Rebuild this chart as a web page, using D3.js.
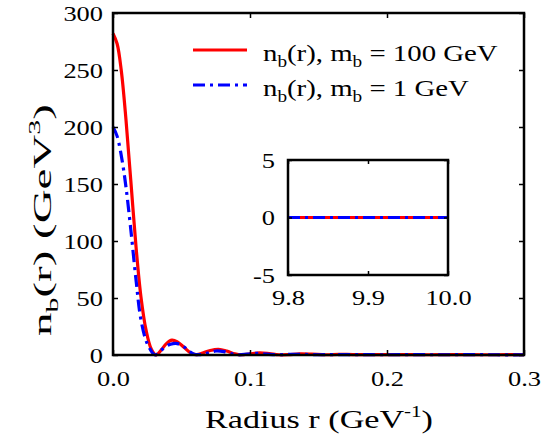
<!DOCTYPE html>
<html>
<head>
<meta charset="utf-8">
<script src="https://cdn.jsdelivr.net/npm/d3@7"></script>
<style>
  body { margin: 0; background: #fff; }
  text { font-family: "Liberation Serif", "Times New Roman", serif; fill: #000; }
</style>
</head>
<body>
<svg id="chart" width="547" height="434"></svg>
<script>
// values
var rRed = [0, 0.003, 0.006, 0.0095, 0.013, 0.0168, 0.0204, 0.0241, 0.028, 0.0314, 0.035, 0.039, 0.043, 0.047, 0.052, 0.057, 0.061, 0.066, 0.071, 0.077, 0.083, 0.089, 0.094, 0.100, 0.107, 0.114, 0.121, 0.128, 0.136, 0.145, 0.155, 0.165, 0.175, 0.19, 0.21, 0.23, 0.25, 0.27, 0.29, 0.3];
var nRed = [282, 273, 250, 206, 153, 95, 51, 22, 5, 0, 4, 10, 13, 11.5, 6.5, 1.5, 0.3, 2, 4, 5, 3.5, 1, 0.2, 1, 1.8, 1.2, 0.2, 0.3, 1, 0.8, 0.2, 0.6, 0.4, 0.3, 0.4, 0.2, 0.3, 0.2, 0.3, 0.2];
var rBlue = [0, 0.003, 0.0066, 0.0095, 0.013, 0.0168, 0.0204, 0.025, 0.0307, 0.034, 0.038, 0.042, 0.047, 0.052, 0.056, 0.06, 0.065, 0.07, 0.075, 0.081, 0.087, 0.092, 0.098, 0.105, 0.112, 0.12, 0.13, 0.14, 0.15, 0.16, 0.18, 0.2, 0.22, 0.24, 0.26, 0.28, 0.3];
var nBlue = [200, 192, 171, 147, 110, 66, 31, 10, 0, 3, 7, 9.5, 10, 7, 3, 0.5, 0.5, 2, 3.5, 3, 1, 0.2, 0.8, 1.5, 0.8, 0.2, 0.6, 0.5, 0.2, 0.4, 0.3, 0.2, 0.3, 0.2, 0.3, 0.2, 0.2];
var rInset = [9.8, 9.85, 9.9, 9.95, 10.0];
var nInsetRed = [0, 0, 0, 0, 0];
var nInsetBlue = [0, 0, 0, 0, 0];

var xTicks = [0, 0.1, 0.2, 0.3];
var yTicks = [0, 50, 100, 150, 200, 250, 300];
var insetXTicks = [9.8, 9.9, 10.0];
var insetYTicks = [-5, 0, 5];

var svg = d3.select("#chart");
var RED = "#ff0000", BLUE = "#0000ff";
var blueDash = "12,5,3,5";
var fs = 22, wide = 1.2; // the figure's type is drawn wider than normal

var x = d3.scaleLinear().domain([0, 0.3]).range([113, 524]);
var y = d3.scaleLinear().domain([0, 300]).range([355, 13]);

function zip(a, b) { return a.map(function (v, i) { return [v, b[i]]; }); }

function stretch(sel, k) {
  sel.each(function () {
    var len = this.getComputedTextLength();
    d3.select(this).attr("textLength", len * k).attr("lengthAdjust", "spacingAndGlyphs");
  });
}

// main curves
var line = d3.line().x(function (d) { return x(d[0]); }).y(function (d) { return y(d[1]); })
  .curve(d3.curveCatmullRom.alpha(0.5));

svg.append("path").datum(zip(rRed, nRed)).attr("d", line)
  .attr("fill", "none").attr("stroke", RED).attr("stroke-width", 3.2);
svg.append("path").datum(zip(rBlue, nBlue)).attr("d", line)
  .attr("fill", "none").attr("stroke", BLUE).attr("stroke-width", 3.2)
  .attr("stroke-dasharray", blueDash);

function styleAxis(g) {
  g.select(".domain").remove();
  g.selectAll(".tick line").attr("stroke", "#000").attr("stroke-width", 1.5);
  g.selectAll(".tick text").attr("font-size", fs).attr("font-family", "Liberation Serif").attr("fill", "#000")
    .call(stretch, wide);
}

// axes: inward ticks on all four sides
svg.append("g").attr("transform", "translate(0,355)")
  .call(d3.axisBottom(x).tickValues(xTicks).tickSize(-5).tickPadding(15).tickFormat(d3.format(".1f")))
  .call(styleAxis);
svg.append("g").attr("transform", "translate(0,13)")
  .call(d3.axisTop(x).tickValues(xTicks).tickSize(-5).tickFormat(""))
  .call(styleAxis);
svg.append("g").attr("transform", "translate(113,0)")
  .call(d3.axisLeft(y).tickValues(yTicks).tickSize(-5).tickPadding(10))
  .call(styleAxis);
svg.append("g").attr("transform", "translate(524,0)")
  .call(d3.axisRight(y).tickValues(yTicks).tickSize(-5).tickFormat(""))
  .call(styleAxis);

svg.append("rect").attr("x", 113).attr("y", 13).attr("width", 411).attr("height", 342)
  .attr("fill", "none").attr("stroke", "#000").attr("stroke-width", 2.5);

// axis titles
var xt = svg.append("text").attr("x", 319).attr("y", 428).attr("text-anchor", "middle").attr("font-size", 26);
xt.append("tspan").text("Radius r (GeV");
xt.append("tspan").attr("dy", -11).attr("font-size", 16).text("-1");
xt.append("tspan").attr("dy", 11).text(")");
xt.attr("textLength", 228).attr("lengthAdjust", "spacingAndGlyphs");

var yt = svg.append("text").attr("transform", "translate(51,220) rotate(-90)")
  .attr("text-anchor", "middle").attr("font-size", 25);
yt.append("tspan").text("n");
yt.append("tspan").attr("dy", 7).attr("font-size", 16).text("b");
yt.append("tspan").attr("dy", -7).text("(r) (GeV");
yt.append("tspan").attr("dy", -11).attr("font-size", 16).text("3");
yt.append("tspan").attr("dy", 11).text(")");
yt.attr("textLength", 232).attr("lengthAdjust", "spacingAndGlyphs");

// legend
var legend = [
  { color: RED, dash: null, mass: "100 GeV", y: 50 },
  { color: BLUE, dash: blueDash, mass: "1 GeV", y: 85 }
];
legend.forEach(function (l) {
  svg.append("line").attr("x1", 193).attr("x2", 247).attr("y1", l.y).attr("y2", l.y)
    .attr("stroke", l.color).attr("stroke-width", 3.2).attr("stroke-dasharray", l.dash);
  var t = svg.append("text").attr("x", 263).attr("y", l.y + 11).attr("font-size", 24);
  t.append("tspan").text("n");
  t.append("tspan").attr("dy", 6).attr("font-size", 16).text("b");
  t.append("tspan").attr("dy", -6).text("(r), m");
  t.append("tspan").attr("dy", 6).attr("font-size", 16).text("b");
  t.append("tspan").attr("dy", -6).text(" = " + l.mass);
  stretch(t, wide);
});

// inset
var ix = d3.scaleLinear().domain([9.8, 10.0]).range([288, 448]);
var iy = d3.scaleLinear().domain([-5, 5]).range([275, 160]);
var iline = d3.line().x(function (d) { return ix(d[0]); }).y(function (d) { return iy(d[1]); });

svg.append("rect").attr("x", 288).attr("y", 160).attr("width", 160).attr("height", 115).attr("fill", "#fff");
svg.append("path").datum(zip(rInset, nInsetRed)).attr("d", iline)
  .attr("fill", "none").attr("stroke", RED).attr("stroke-width", 3.2);
svg.append("path").datum(zip(rInset, nInsetBlue)).attr("d", iline)
  .attr("fill", "none").attr("stroke", BLUE).attr("stroke-width", 3.2).attr("stroke-dasharray", blueDash);

svg.append("g").attr("transform", "translate(0,275)")
  .call(d3.axisBottom(ix).tickValues(insetXTicks).tickSize(-4).tickPadding(14).tickFormat(d3.format(".1f")))
  .call(styleAxis);
svg.append("g").attr("transform", "translate(0,160)")
  .call(d3.axisTop(ix).tickValues(insetXTicks).tickSize(-4).tickFormat(""))
  .call(styleAxis);
svg.append("g").attr("transform", "translate(288,0)")
  .call(d3.axisLeft(iy).tickValues(insetYTicks).tickSize(-4).tickPadding(13).tickFormat(function (d) { return d < 0 ? "-" + (-d) : d; }))
  .call(styleAxis);
svg.append("g").attr("transform", "translate(448,0)")
  .call(d3.axisRight(iy).tickValues(insetYTicks).tickSize(-4).tickFormat(""))
  .call(styleAxis);
svg.append("rect").attr("x", 288).attr("y", 160).attr("width", 160).attr("height", 115)
  .attr("fill", "none").attr("stroke", "#000").attr("stroke-width", 2.5);
</script>
</body>
</html>
